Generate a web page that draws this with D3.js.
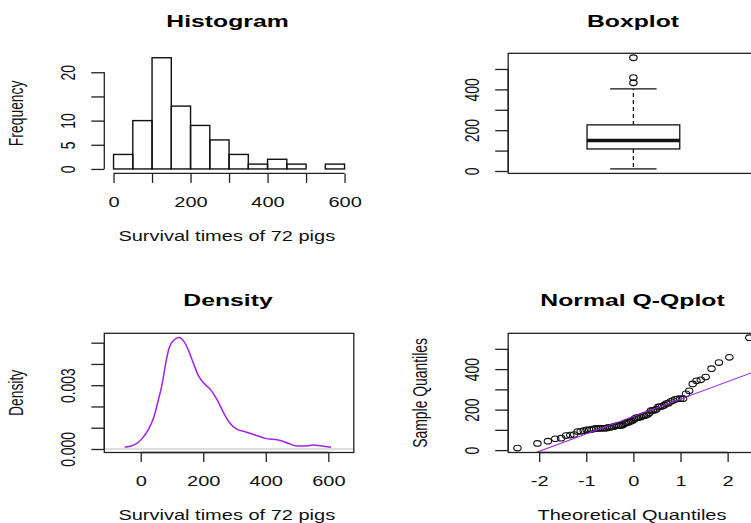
<!DOCTYPE html>
<html lang="en">
<head>
  <meta charset="UTF-8" />
  <title>Survival times of 72 pigs</title>
  <script src="https://d3js.org/d3.v7.min.js"></script>
  <style>
    body { margin: 0; padding: 0; background: #fff; }
    svg { display: block; font-family: "Liberation Sans", Arial, sans-serif; }
    .axis line, .axis path { stroke: #222; stroke-width: 1.3; }
    .axis text { fill: #111; font-size: 13.9px; }
    .title { font-size: 17.2px; font-weight: bold; fill: #000; }
    .lab { font-size: 13.9px; fill: #111; }
  </style>
</head>
<body>
<div id="chart"></div>
<script>
  const W = 751, H = 523;
  const SX = 1.44; // the original picture is stretched sideways

  // survival times (sorted) of the 72 pigs
  const survival = [10,33,44,56,59,72,74,77,92,93,96,100,100,102,105,107,107,108,108,108,
    109,112,113,115,116,120,121,122,122,124,130,134,136,139,144,146,153,159,160,163,
    163,168,171,172,176,183,195,196,197,202,213,215,216,222,230,231,240,245,251,253,
    254,254,278,293,327,342,347,361,402,432,458,555];

  // histogram
  const histBreaks = [0,50,100,150,200,250,300,350,400,450,500,550,600];
  const histCounts = [3,10,23,13,9,6,3,1,2,1,0,1];
  const histXTicks = [0,100,200,300,400,500,600];
  const histXLabels = [0,200,400,600];
  const histYTicks = [0,5,10,15,20];
  const histYLabels = [0,5,10,20];

  // boxplot: whisker low, Q1, median, Q3, whisker high
  const boxStats = [10,108,149.5,226,402];
  const boxOutliers = [432,458,555];
  const valTicks = [0,100,200,300,400,500];
  const valLabels = [0,200,400];

  // density curve
  const densX = [-51,-21,5,26.5,42.5,55,69,80,90.5,106.5,122.5,138.5,154.5,170.5,186.5,202.4,
    224,245,266,285.6,307,333.5,365.5,397.5,440,472,499,525.5,552,579,608.6];
  const densY = [0.00008,0.00019,0.0005,0.00097,0.00152,0.00222,0.00309,0.00403,0.00474,0.00513,
    0.00525,0.00505,0.00458,0.00395,0.0034,0.00309,0.00278,0.0023,0.00168,0.00121,0.00093,
    0.00081,0.00066,0.0005,0.00042,0.00027,0.00014,0.00014,0.00019,0.00014,0.00008];
  const densXTicks = [0,200,400,600];
  const densYTicks = [0,0.001,0.002,0.003,0.004,0.005];
  const densYLabels = [0,0.003];

  // normal Q-Q
  const theoQ = [-2.460,-2.037,-1.815,-1.658,-1.534,-1.430,-1.339,-1.258,-1.184,-1.117,-1.054,-0.995,
    -0.940,-0.887,-0.837,-0.788,-0.741,-0.696,-0.653,-0.610,-0.569,-0.528,-0.489,-0.450,
    -0.411,-0.374,-0.337,-0.300,-0.264,-0.228,-0.192,-0.157,-0.122,-0.087,-0.052,-0.017,
    0.017,0.052,0.087,0.122,0.157,0.192,0.228,0.264,0.300,0.337,0.374,0.411,
    0.450,0.489,0.528,0.569,0.610,0.653,0.696,0.741,0.788,0.837,0.887,0.940,
    0.995,1.054,1.117,1.184,1.258,1.339,1.430,1.534,1.658,1.815,2.037,2.460];
  const qqQuartiles = [[-0.6745,108],[0.6745,224]];
  const qqXTicks = [-2,-1,0,1,2];

  const plain = d => String(d);           // R prints "-2", not a unicode minus
  const fixed3 = d => d.toFixed(3);

  const svg = d3.select("#chart").append("svg")
    .attr("width", W).attr("height", H);

  // plot regions
  const colL = [104.3, 353.8], colR = [508.2, 758.6];
  const rowT = [53.3, 173.4], rowB = [333.3, 452.5];

  function stretchedText(x, y, txt, cls, rotate) {
    return svg.append("text")
      .attr("class", cls)
      .attr("text-anchor", "middle")
      .attr("transform", `translate(${x},${y}) scale(${SX},1)` + (rotate ? " rotate(-90)" : ""))
      .text(txt);
  }

  function bottomAxis(scale, y, ticks, labels, fmt) {
    const g = svg.append("g").attr("class", "axis")
      .attr("transform", `translate(0,${y})`)
      .call(d3.axisBottom(scale).tickValues(ticks).tickSize(9.5).tickSizeOuter(0)
        .tickFormat(d => labels.includes(d) ? fmt(d) : ""));
    g.select(".domain").remove();
    g.append("line")
      .attr("x1", scale(ticks[0])).attr("x2", scale(ticks[ticks.length - 1]));
    g.selectAll(".tick text")
      .attr("x", 0).attr("y", 33.5).attr("dy", null)
      .attr("transform", `scale(${SX},1)`);
    return g;
  }

  function leftAxis(scale, x, ticks, labels, fmt) {
    const g = svg.append("g").attr("class", "axis")
      .attr("transform", `translate(${x},0)`)
      .call(d3.axisLeft(scale).tickValues(ticks).tickSize(13).tickSizeOuter(0)
        .tickFormat(d => labels.includes(d) ? fmt(d) : ""));
    g.select(".domain").remove();
    g.append("line")
      .attr("y1", scale(ticks[0])).attr("y2", scale(ticks[ticks.length - 1]));
    g.selectAll(".tick text")
      .attr("x", 0).attr("y", 0).attr("dy", null)
      .attr("text-anchor", "middle")
      .attr("transform", `translate(-29,0) scale(${SX},1) rotate(-90)`);
    return g;
  }

  function frame(xr, yr) {
    svg.append("rect")
      .attr("x", xr[0]).attr("y", yr[0])
      .attr("width", xr[1] - xr[0]).attr("height", yr[1] - yr[0])
      .attr("fill", "none").attr("stroke", "#222").attr("stroke-width", 1.3);
  }

  // ---------- Histogram ----------
  {
    const x = d3.scaleLinear().domain([-24, 624]).range(colL);
    const y = d3.scaleLinear().domain([-0.92, 23.92]).range([rowT[1], rowT[0]]);
    const bins = histCounts.map((c, i) => ({ x0: histBreaks[i], x1: histBreaks[i + 1], n: c }));
    svg.append("g").selectAll("rect").data(bins).enter().append("rect")
      .attr("x", d => x(d.x0)).attr("width", d => x(d.x1) - x(d.x0))
      .attr("y", d => y(d.n)).attr("height", d => y(0) - y(d.n))
      .attr("fill", "none").attr("stroke", "#111").attr("stroke-width", 1.4);
    bottomAxis(x, rowT[1], histXTicks, histXLabels, plain);
    leftAxis(y, colL[0], histYTicks, histYLabels, plain);
    stretchedText(227.5, 26.7, "Histogram", "title");
    stretchedText(226.8, 240.7, "Survival times of 72 pigs", "lab");
    stretchedText(colL[0] - 81.5, (rowT[0] + rowT[1]) / 2, "Frequency", "lab", true);
  }

  // ---------- Boxplot ----------
  {
    const x = d3.scaleLinear().domain([0.46, 1.54]).range(colR);
    const y = d3.scaleLinear().domain([-11.8, 576.8]).range([rowT[1], rowT[0]]);
    const g = svg.append("g").attr("stroke", "#111").attr("fill", "none");
    const [lo, q1, med, q3, hi] = boxStats;
    g.append("line").attr("x1", x(1)).attr("x2", x(1)).attr("y1", y(q3)).attr("y2", y(hi))
      .attr("stroke-dasharray", "4,3").attr("stroke-width", 1.3);
    g.append("line").attr("x1", x(1)).attr("x2", x(1)).attr("y1", y(q1)).attr("y2", y(lo))
      .attr("stroke-dasharray", "4,3").attr("stroke-width", 1.3);
    [lo, hi].forEach(v => g.append("line")
      .attr("x1", x(0.9)).attr("x2", x(1.1)).attr("y1", y(v)).attr("y2", y(v))
      .attr("stroke-width", 1.3));
    g.append("rect").attr("x", x(0.8)).attr("width", x(1.2) - x(0.8))
      .attr("y", y(q3)).attr("height", y(q1) - y(q3)).attr("stroke-width", 1.3)
      .attr("fill", "#fff");
    g.append("line").attr("x1", x(0.8)).attr("x2", x(1.2)).attr("y1", y(med)).attr("y2", y(med))
      .attr("stroke-width", 3.6);
    g.selectAll("ellipse").data(boxOutliers).enter().append("ellipse")
      .attr("cx", x(1)).attr("cy", d => y(d)).attr("rx", 3.7).attr("ry", 2.8)
      .attr("stroke-width", 1.2);
    frame(colR, rowT);
    leftAxis(y, colR[0], valTicks, valLabels, plain);
    stretchedText(633, 26.7, "Boxplot", "title");
  }

  // ---------- Density ----------
  {
    const x = d3.scaleLinear().domain([-116.4, 681.5]).range(colL);
    const y = d3.scaleLinear().domain([-0.000165, 0.005442]).range([rowB[1], rowB[0]]);
    svg.append("line").attr("x1", colL[0]).attr("x2", colL[1])
      .attr("y1", y(0)).attr("y2", y(0)).attr("stroke", "#bebebe").attr("stroke-width", 1.2);
    const line = d3.line().x(d => x(d[0])).y(d => y(d[1])).curve(d3.curveMonotoneX);
    svg.append("path").datum(densX.map((v, i) => [v, densY[i]]))
      .attr("d", line).attr("fill", "none")
      .attr("stroke", "#A020F0").attr("stroke-width", 1.5);
    frame(colL, rowB);
    bottomAxis(x, rowB[1], densXTicks, densXTicks, plain);
    leftAxis(y, colL[0], densYTicks, densYLabels, fixed3);
    stretchedText(228, 306, "Density", "title");
    stretchedText(226.8, 520, "Survival times of 72 pigs", "lab");
    stretchedText(colL[0] - 81.5, (rowB[0] + rowB[1]) / 2, "Density", "lab", true);
  }

  // ---------- Normal Q-Q ----------
  {
    const x = d3.scaleLinear().domain([-2.657, 2.657]).range(colR);
    const y = d3.scaleLinear().domain([-11.8, 576.8]).range([rowB[1], rowB[0]]);
    svg.append("clipPath").attr("id", "qqclip").append("rect")
      .attr("x", colR[0]).attr("y", rowB[0])
      .attr("width", colR[1] - colR[0]).attr("height", rowB[1] - rowB[0]);
    svg.append("g").selectAll("ellipse").data(survival).enter().append("ellipse")
      .attr("cx", (d, i) => x(theoQ[i])).attr("cy", d => y(d))
      .attr("rx", 3.7).attr("ry", 2.8)
      .attr("fill", "none").attr("stroke", "#111").attr("stroke-width", 1.1);
    const [[z1, v1], [z3, v3]] = qqQuartiles;
    const slope = (v3 - v1) / (z3 - z1);
    const [dx0, dx1] = x.domain();
    svg.append("line").attr("clip-path", "url(#qqclip)")
      .attr("x1", x(dx0)).attr("y1", y(v1 + slope * (dx0 - z1)))
      .attr("x2", x(dx1)).attr("y2", y(v1 + slope * (dx1 - z1)))
      .attr("stroke", "#A020F0").attr("stroke-width", 1.1);
    frame(colR, rowB);
    bottomAxis(x, rowB[1], qqXTicks, qqXTicks, plain);
    leftAxis(y, colR[0], valTicks, valLabels, plain);
    stretchedText(632.5, 306, "Normal Q-Qplot", "title");
    stretchedText(632, 520, "Theoretical Quantiles", "lab");
    stretchedText(colR[0] - 81.5, (rowB[0] + rowB[1]) / 2, "Sample Quantiles", "lab", true);
  }
</script>
</body>
</html>
